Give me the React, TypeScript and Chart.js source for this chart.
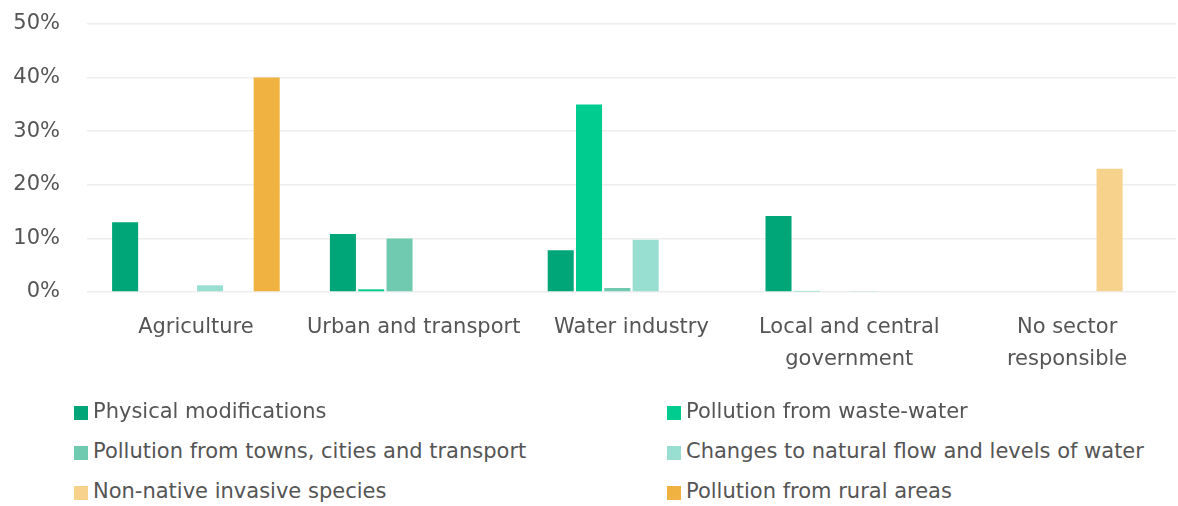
import React, { useEffect, useRef } from "react";
import { Chart, registerables } from "chart.js";

Chart.register(...registerables);

const categories: (string | string[])[] = [
  "Agriculture",
  "Urban and transport",
  "Water industry",
  ["Local and central", "government"],
  ["No sector", "responsible"],
];

const seriesNames = [
  "Physical modifications",
  "Pollution from waste-water",
  "Pollution from towns, cities and transport",
  "Changes to natural flow and levels of water",
  "Non-native invasive species",
  "Pollution from rural areas",
];

const physicalModifications = [13, 10.8, 7.8, 14.2, 0];
const pollutionWasteWater = [0, 0.5, 35, 0.2, 0];
const pollutionTowns = [0, 10, 0.75, 0, 0];
const changesFlow = [1.25, 0, 9.75, 0.2, 0];
const nonNativeSpecies = [0, 0, 0, 0, 23];
const pollutionRural = [40, 0, 0, 0, 0];

const seriesValues = [
  physicalModifications,
  pollutionWasteWater,
  pollutionTowns,
  changesFlow,
  nonNativeSpecies,
  pollutionRural,
];

const colors = ["#00A677", "#00CC8F", "#6FCAB0", "#98DED1", "#F6D28C", "#F0B342"];

const yTicks = [0, 10, 20, 30, 40, 50];

const FONT = "'DejaVu Sans', sans-serif";
const FONT_SIZE = 21;

export default function App() {
  const ref = useRef<HTMLCanvasElement | null>(null);

  useEffect(() => {
    if (!ref.current) return;
    const chart = new Chart(ref.current, {
      type: "bar",
      data: {
        labels: categories,
        datasets: seriesNames.map((name, i) => ({
          label: name,
          data: seriesValues[i],
          backgroundColor: colors[i],
          borderWidth: 0,
          categoryPercentage: 0.78,
          barPercentage: 0.92,
        })),
      },
      options: {
        responsive: false,
        animation: false,
        maintainAspectRatio: false,
        layout: { padding: { top: 24, right: 2, bottom: 0, left: 0 } },
        plugins: {
          legend: { display: false },
          tooltip: { enabled: false },
        },
        scales: {
          x: {
            grid: { display: false },
            border: { display: false },
            ticks: {
              color: "#555555",
              font: { family: FONT, size: FONT_SIZE, lineHeight: 1.52 },
              padding: 12,
              maxRotation: 0,
              autoSkip: false,
            },
            afterFit: (scale: any) => {
              scale.height = 108;
            },
          },
          y: {
            min: 0,
            max: 50,
            afterBuildTicks: (scale: any) => {
              scale.ticks = yTicks.map((v) => ({ value: v }));
            },
            grid: { color: "#eeeeee", lineWidth: 1.5, drawTicks: false },
            border: { display: false },
            ticks: {
              color: "#555555",
              font: { family: FONT, size: FONT_SIZE },
              padding: 27,
              callback: (v: any) => `${v}%`,
            },
            afterFit: (scale: any) => {
              scale.width = 87;
              scale.paddingTop = 12;
              scale.paddingBottom = 12;
            },
          },
        },
      },
    });
    return () => chart.destroy();
  }, []);

  const legendRows = [
    [0, 1],
    [2, 3],
    [4, 5],
  ];

  return (
    <div
      style={{
        position: "fixed",
        left: 0,
        top: 0,
        width: 1178,
        height: 506,
        background: "#ffffff",
        fontFamily: FONT,
      }}
    >
      <canvas ref={ref} width={1178} height={400} style={{ display: "block" }} />
      {legendRows.map((row, r) =>
        row.map((idx, c) => (
          <div
            key={idx}
            style={{
              position: "absolute",
              left: c === 0 ? 74 : 667,
              top: 411 + r * 40 - 14,
              height: 28,
              display: "flex",
              alignItems: "center",
              whiteSpace: "nowrap",
              fontSize: FONT_SIZE,
              color: "#555555",
            }}
          >
            <span
              style={{
                display: "inline-block",
                width: 14,
                height: 14,
                background: colors[idx],
                marginRight: 5,
                marginTop: 3,
              }}
            />
            <span>{seriesNames[idx]}</span>
          </div>
        ))
      )}
    </div>
  );
}
